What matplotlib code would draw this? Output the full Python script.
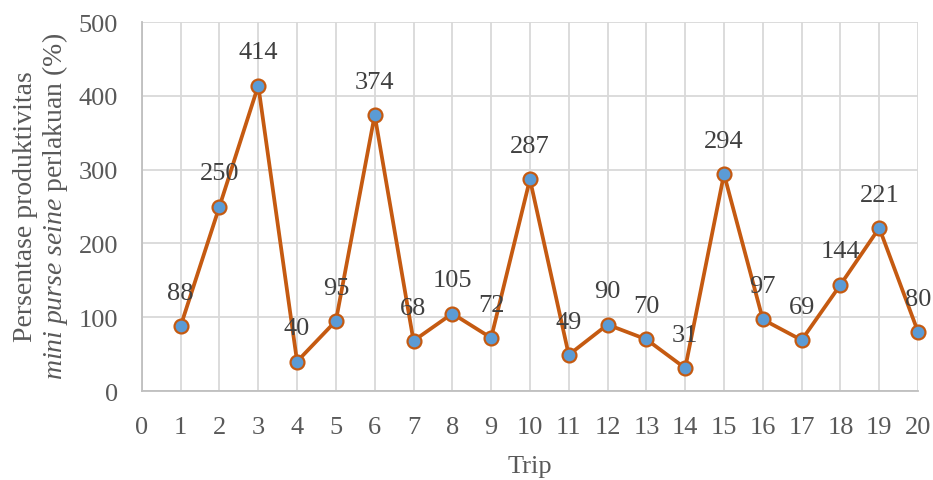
import matplotlib
matplotlib.use('Agg')
import matplotlib.pyplot as plt

trips = list(range(1, 21))
persen = [88, 250, 414, 40, 95, 374, 68, 105, 72, 287, 49, 90, 70, 31, 294, 97, 69, 144, 221, 80]
xticks = list(range(0, 21))
yticks = [0, 100, 200, 300, 400, 500]

plt.rcParams['font.family'] = 'Liberation Serif'
plt.rcParams['mathtext.fontset'] = 'custom'
plt.rcParams['mathtext.rm'] = 'Liberation Serif'
plt.rcParams['mathtext.it'] = 'Liberation Serif:italic'

fig = plt.figure(figsize=(9.33, 4.81), dpi=100)
ax = fig.add_axes([0.152, 0.185, 0.832, 0.767])

ax.plot(trips, persen, '-o', color='#c55a11', linewidth=2.7, markersize=10,
        markerfacecolor='#5b9bd5', markeredgecolor='#c55a11', markeredgewidth=1.6,
        zorder=3, clip_on=False)
for x, v in zip(trips, persen):
    ax.annotate(str(v), (x, v), xytext=(0, 24), textcoords='offset points',
                ha='center', va='center', fontsize=19, color='#404040')

ax.set_xlim(0, 20)
ax.set_ylim(0, 500)
ax.set_xticks(xticks)
ax.set_yticks(yticks)
ax.grid(True, color='#d9d9d9', linewidth=1.3)
ax.set_axisbelow(True)
for s in ['top', 'right']:
    ax.spines[s].set_visible(False)
for s in ['left', 'bottom']:
    ax.spines[s].set_color('#bfbfbf')
    ax.spines[s].set_linewidth(1.3)
ax.tick_params(length=0, labelsize=19, labelcolor='#595959', pad=18)
ax.tick_params(axis='y', pad=17)

ax.set_xlabel('Trip', fontsize=19, color='#595959', labelpad=12)
fig.text(0.027, 0.57, 'Persentase produktivitas', rotation=90, ha='center', va='center',
         fontsize=20, color='#595959')
fig.text(0.059, 0.57, r'$mini\ purse\ seine$ perlakuan (%)', rotation=90, ha='center',
         va='center', fontsize=20, color='#595959')

fig.savefig('out.png', dpi=100)
